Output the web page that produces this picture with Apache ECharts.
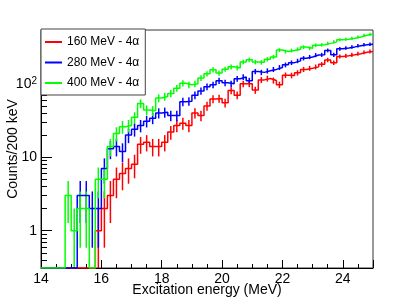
<!DOCTYPE html>
<html><head><meta charset="utf-8">
<script src="https://cdn.jsdelivr.net/npm/echarts@6/dist/echarts.min.js"></script>
<style>html,body{margin:0;padding:0;background:#fff}#c{width:415px;height:299px}</style>
</head><body><div id="c"></div>
<script>
// Bin low edges (MeV), bin width 200 keV
const binLow = [14.0,14.2,14.4,14.6,14.8,15.0,15.2,15.4,15.6,15.8,
  16.0,16.2,16.4,16.6,16.8,17.0,17.2,17.4,17.6,17.8,
  18.0,18.2,18.4,18.6,18.8,19.0,19.2,19.4,19.6,19.8,
  20.0,20.2,20.4,20.6,20.8,21.0,21.2,21.4,21.6,21.8,
  22.0,22.2,22.4,22.6,22.8,23.0,23.2,23.4,23.6,23.8,
  24.0,24.2,24.4,24.6,24.8];
const binWidth = 0.2;
const counts160 = [0,0,0,0,0,0,0,0,0,1,
  2,3,5,6,7,8,15,16,14,14,
  16,22,27,29,27,40,37,50,62,63,
  55,81,70,100,100,82,113,118,111,97,
  131,130,141,157,163,170,184,211,194,236,
  240,248,257,268,276];
const counts280 = [0,0,0,0,0,0,3,3,2,2,
  7,13,14,12,20,24,27,31,34,40,
  41,37,37,57,58,70,80,91,97,110,
  103,100,117,124,110,147,143,150,157,167,
  181,194,205,223,232,246,248,285,248,300,
  308,318,330,340,345];
const counts400 = [0,0,0,0,3,1,2,2,0,5,
  5,14,21,26,27,35,54,44,43,64,
  67,74,87,102,97,100,120,137,155,140,
  158,170,164,198,212,198,196,216,232,288,
  275,284,296,316,305,336,340,355,372,398,
  405,418,434,458,474];
const seriesNames = ['160 MeV - 4\u03b1','280 MeV - 4\u03b1','400 MeV - 4\u03b1'];
const seriesColors = ['#ff0000','#0000ff','#00ff00'];
const xTickLabels = [14,16,18,20,22,24];
const yTickLabels = [1,10,100];
const yMinorTicks = [0.4,0.5,0.6,0.7,0.8,0.9,2,3,4,5,6,7,8,9,20,30,40,50,60,70,80,90,200,300,400,500];
const xRange = [14,25];
const yRange = [0.31,540];

const FONT = 'Liberation Sans, Arial, Helvetica, sans-serif';
const allCounts = [counts160, counts280, counts400];

function stepData(vals){
  const d = binLow.map((x,i)=>[x, vals[i] > 0 ? vals[i] : yRange[0]]);
  const last = vals.length-1;
  d.push([binLow[last]+binWidth, vals[last] > 0 ? vals[last] : yRange[0]]);
  return d;
}
function errData(vals){
  const d = [];
  binLow.forEach((x,i)=>{
    const v = vals[i];
    if (v > 0) {
      const e = Math.sqrt(v);
      d.push([x+binWidth/2, Math.max(v-e, yRange[0]), v+e]);
    }
  });
  return d;
}
const series = [];
allCounts.forEach((vals,k)=>{
  series.push({
    name: seriesNames[k], type:'line', step:'end', symbol:'none', showSymbol:false,
    data: stepData(vals), clip:true, animation:false,
    lineStyle:{color:seriesColors[k], width:1.5}, itemStyle:{color:seriesColors[k]},
    xAxisIndex:0, yAxisIndex:0
  });
  series.push({
    name: 'err'+k, type:'custom', data: errData(vals), clip:true, animation:false,
    encode:{x:0, y:[1,2]}, xAxisIndex:0, yAxisIndex:0,
    renderItem: (params, api) => {
      const p1 = api.coord([api.value(0), api.value(1)]);
      const p2 = api.coord([api.value(0), api.value(2)]);
      return {type:'line', shape:{x1:p1[0],y1:p1[1],x2:p2[0],y2:p2[1]},
        style:{stroke:seriesColors[k], lineWidth:1.5}};
    }
  });
});

const chart = echarts.init(document.getElementById('c'), null, {renderer:'canvas'});
chart.setOption({
  animation:false,
  backgroundColor:'#fff',
  textStyle:{fontFamily:FONT},
  grid:{left:41, right:42, top:30, bottom:31, containLabel:false, outerBoundsMode:'none',
    show:true, borderColor:'#333', borderWidth:1, backgroundColor:'#fff'},
  legend:{
    data: seriesNames, orient:'vertical', left:41, top:29, icon:'rect',
    backgroundColor:'#fff', borderColor:'#444', borderWidth:1,
    padding:[6,6,5,4], itemWidth:17, itemHeight:2, itemGap:6.5,
    textStyle:{fontSize:12, lineHeight:14, color:'#000', fontFamily:FONT}, selectedMode:false
  },
  xAxis:{
    type:'value', min:xRange[0], max:xRange[1], interval:2,
    axisLine:{lineStyle:{color:'#000', width:1}},
    axisTick:{inside:true, length:8, lineStyle:{color:'#000'}},
    minorTick:{show:true, splitNumber:4, length:4, lineStyle:{color:'#000'}},
    splitLine:{show:false},
    axisLabel:{color:'#000', fontSize:14, margin:4, fontFamily:FONT, showMaxLabel:false,
      formatter: v => xTickLabels.includes(Math.round(v*1000)/1000) ? String(v) : ''},
    name:'Excitation energy (MeV)', nameLocation:'middle', nameGap:15, nameMoveOverlap:false,
    nameTextStyle:{fontSize:14, color:'#000', fontFamily:FONT}
  },
  yAxis:[{
    type:'log', logBase:10, min:yRange[0], max:yRange[1],
    axisLine:{show:true, lineStyle:{color:'#000', width:1}},
    axisTick:{show:true, inside:true, length:11, customValues:yTickLabels, lineStyle:{color:'#000'}},
    splitLine:{show:false},
    axisLabel:{customValues:yTickLabels, color:'#000', fontSize:14, margin:4, fontFamily:FONT,
      formatter: v => {
        if (Math.abs(v-100) < 1e-6) return '{b|10}{s|2}';
        if (Math.abs(v-10) < 1e-6) return '{b|10}';
        if (Math.abs(v-1) < 1e-6) return '{b|1}';
        return '';
      },
      rich:{b:{fontSize:14, color:'#000', fontFamily:FONT}, s:{fontSize:10, color:'#000', fontFamily:FONT, verticalAlign:'top', padding:[0,0,6,0]}}
    },
    name:'Counts/200 keV', nameLocation:'middle', nameRotate:90, nameGap:21, nameMoveOverlap:false,
    nameTextStyle:{fontSize:14, color:'#000', fontFamily:FONT}
  },{
    type:'log', logBase:10, min:yRange[0], max:yRange[1], position:'left', offset:0,
    axisLine:{show:false}, splitLine:{show:false}, axisLabel:{show:false},
    axisTick:{show:true, inside:true, length:6, customValues:yMinorTicks, lineStyle:{color:'#000'}}
  }],
  series: series
});
</script></body></html>
